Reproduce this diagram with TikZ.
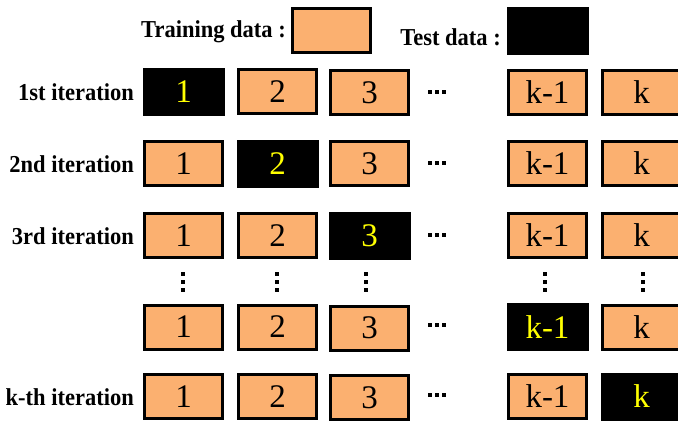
\documentclass[tikz,border=0pt]{standalone}
\usepackage{fontspec}
\setmainfont{Liberation Serif}
\definecolor{trainorange}{RGB}{251,176,112}
\definecolor{testyellow}{RGB}{255,255,0}
\newcommand{\widetxt}[1]{\scalebox{1.0}[1.08]{#1}}
\begin{document}
\begin{tikzpicture}[x=1pt,y=-1pt,
  trainbox/.style={draw=black,line width=3pt,fill=trainorange,minimum width=78pt,minimum height=44pt,inner sep=0pt,font=\fontsize{33}{35}\selectfont},
  testbox/.style={fill=black,minimum width=82pt,minimum height=48pt,inner sep=0pt,text=testyellow,font=\fontsize{33}{35}\selectfont},
  rowlabel/.style={anchor=base east,inner sep=0pt,font=\fontsize{22.5}{24}\selectfont\bfseries},
  hdot/.style={fill=black,minimum size=4pt,inner sep=0pt},
  vdot/.style={fill=black,minimum size=3.5pt,inner sep=0pt}
]
\useasboundingbox (0,0) rectangle (678,421);
\begin{scope}
\clip (0,0) rectangle (678,421);
% legend
\node[rowlabel] (trainlbl) at (286,37) {\widetxt{Training data :}};
\node[trainbox] (trainkey) at (331,30.5) {};
\node[rowlabel] (testlbl) at (501,45.5) {\widetxt{Test data :}};
\node[testbox] (testkey) at (548,31) {};
\def\colA{183.5}\def\colB{277.5}\def\colC{369.5}\def\colD{547.5}\def\colE{641.5}
% row 1
\node[rowlabel] (l1) at (134,100) {\widetxt{1st iteration}};
\node[testbox] (r1c1) at (\colA,91.5) {1};
\node[trainbox] (r1c2) at (\colB,91.5) {2};
\node[trainbox] (r1c3) at (\colC,92.5) {3};
\node[trainbox] (r1c4) at (\colD,92.5) {k-1};
\node[trainbox] (r1c5) at (\colE,92.5) {k};
% row 2
\node[rowlabel] (l2) at (134,172) {\widetxt{2nd iteration}};
\node[trainbox] (r2c1) at (\colA,163.5) {1};
\node[testbox] (r2c2) at (\colB,163.5) {2};
\node[trainbox] (r2c3) at (\colC,163.5) {3};
\node[trainbox] (r2c4) at (\colD,163.5) {k-1};
\node[trainbox] (r2c5) at (\colE,163.5) {k};
% row 3
\node[rowlabel] (l3) at (134,244) {\widetxt{3rd iteration}};
\node[trainbox] (r3c1) at (\colA,235.5) {1};
\node[trainbox] (r3c2) at (\colB,235.5) {2};
\node[testbox] (r3c3) at (\colC,235.5) {3};
\node[trainbox] (r3c4) at (\colD,235.5) {k-1};
\node[trainbox] (r3c5) at (\colE,235.5) {k};
% row 5
\node[trainbox] (r5c1) at (\colA,327) {1};
\node[trainbox] (r5c2) at (\colB,327) {2};
\node[trainbox] (r5c3) at (\colC,328) {3};
\node[testbox] (r5c4) at (\colD,327) {k-1};
\node[trainbox] (r5c5) at (\colE,327) {k};
% row 6
\node[rowlabel] (l6) at (134,405) {\widetxt{k-th iteration}};
\node[trainbox] (r6c1) at (\colA,396.5) {1};
\node[trainbox] (r6c2) at (\colB,396.5) {2};
\node[trainbox] (r6c3) at (\colC,397.5) {3};
\node[trainbox] (r6c4) at (\colD,396.5) {k-1};
\node[testbox] (r6c5) at (\colE,396.5) {k};
% horizontal dots
\foreach \ry/\nm in {92/1,163/2,235/3,325/5,395/6}{
  \node[hdot] (h\nm a) at (430,\ry) {};
  \node[hdot] (h\nm b) at (437,\ry) {};
  \node[hdot] (h\nm c) at (444,\ry) {};
}
% vertical dots
\foreach \cx/\nm in {183/a,277/b,366/c,545/d,643/e}{
  \node[vdot] (v\nm1) at (\cx,274) {};
  \node[vdot] (v\nm2) at (\cx,282) {};
  \node[vdot] (v\nm3) at (\cx,290) {};
}
\end{scope}
\end{tikzpicture}
\end{document}
